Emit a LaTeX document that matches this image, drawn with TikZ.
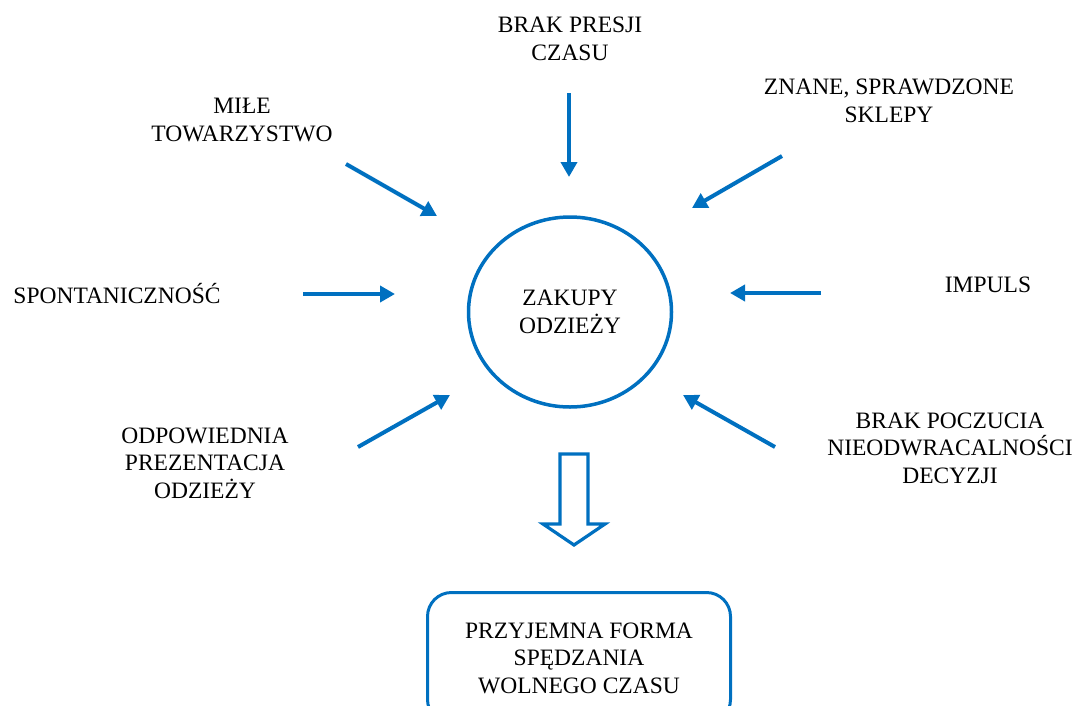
\documentclass[tikz,border=0pt]{standalone}
\usepackage{fontspec}
\setmainfont{Liberation Serif}
\usetikzlibrary{arrows.meta,shapes.geometric}
\definecolor{flowblue}{HTML}{0070C0}
\begin{document}
\begin{tikzpicture}[x=1pt,y=-1pt,
  label text/.style={align=center,inner sep=0pt,font=\fontsize{23.5}{27.5}\selectfont},
  push/.style={draw=flowblue,line width=4pt,-{Triangle[length=15pt,width=16pt]}}]
\useasboundingbox (0,0) rectangle (1078,705);

% central topic
\node[draw=flowblue,line width=3.5pt,ellipse,minimum width=203pt,minimum height=190pt,
      inner sep=0pt,label text] (core) at (570,312) {ZAKUPY\\ODZIEŻY};

% surrounding factors
\node[label text] (time)   at (570,39)  {BRAK PRESJI\\CZASU};
\node[label text] (company) at (242,120) {MIŁE\\TOWARZYSTWO};
\node[label text] (shops)  at (889,101) {ZNANE, SPRAWDZONE\\SKLEPY};
\node[label text] (spont)  at (117,294) {SPONTANICZNOŚĆ};
\node[label text] (impuls) at (988,285) {IMPULS};
\node[label text] (present) at (205,463) {ODPOWIEDNIA\\PREZENTACJA\\ODZIEŻY};
\node[label text] (irrev)  at (950,448) {BRAK POCZUCIA\\NIEODWRACALNOŚCI\\DECYZJI};

% arrow end points around the circle
\coordinate (t0) at (569,93);  \coordinate (t1) at (569,177);
\coordinate (c0) at (346,164); \coordinate (c1) at (437,216);
\coordinate (s0) at (782,156); \coordinate (s1) at (692,208);
\coordinate (p0) at (303,294); \coordinate (p1) at (395,294);
\coordinate (i0) at (821,293); \coordinate (i1) at (730,293);
\coordinate (o0) at (358,447); \coordinate (o1) at (450,395);
\coordinate (n0) at (775,447); \coordinate (n1) at (683,395);

\draw[push] (t0) -- (t1);
\draw[push] (c0) -- (c1);
\draw[push] (s0) -- (s1);
\draw[push] (p0) -- (p1);
\draw[push] (i0) -- (i1);
\draw[push] (o0) -- (o1);
\draw[push] (n0) -- (n1);

% outcome box
\node[draw=flowblue,line width=3pt,rounded corners=24pt,minimum width=303pt,
      minimum height=131pt,label text,anchor=north] (result) at (579,591)
      {PRZYJEMNA FORMA\\SPĘDZANIA\\WOLNEGO CZASU};

% hollow block arrow from the circle down to the outcome
\coordinate (ba) at (574,454);
\draw[flowblue,line width=3.2pt,line join=miter,fill=white]
  (ba) ++(-14,0) -- ++(0,70) -- ++(-17,0) -- (574,545) -- (605,524) -- ++(-17,0)
  -- ++(0,-70) -- cycle;
\end{tikzpicture}
\end{document}
